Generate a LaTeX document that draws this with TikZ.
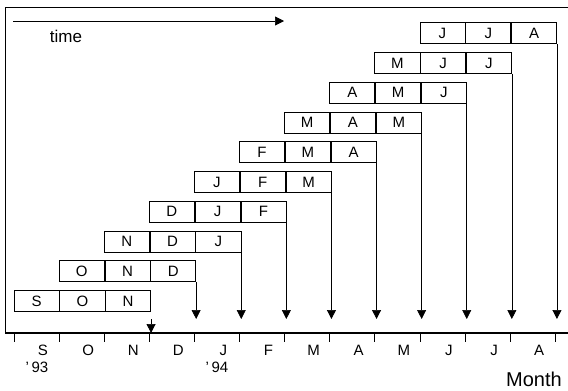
\documentclass[tikz,border=0pt]{standalone}
\usepackage{fontspec}
\setmainfont{Liberation Sans}
\usetikzlibrary{arrows.meta}
\tikzset{cell/.style={draw, line width=0.7pt, minimum width=45.1pt,
    minimum height=21pt, inner sep=0pt, font=\fontsize{15}{15}\selectfont},
  down/.style={-{Triangle[length=9pt,width=9pt]}, line width=0.7pt},
  lbl/.style={inner sep=0pt, font=\fontsize{15}{15}\selectfont}}

\begin{document}
\begin{tikzpicture}[x=1pt, y=-1pt]
  \useasboundingbox (0,0) rectangle (568,391);
  \coordinate (base) at (0,319);
  \coordinate (axis) at (0,333);
  % frame and month axis
  \draw[line width=0.8pt] (5,333) -- (5,7) -- (568,7);
  \draw[line width=1.7pt] (5,333) -- (568,333);
  \foreach \k in {0,...,12}
    \draw[line width=0.7pt] (14+45.1*\k,333) -- (14+45.1*\k,342);
  \foreach \m [count=\k from 0] in {S,O,N,D,J,F,M,A,M,J,J,A}
    \node[lbl] (ax\k) at (43+45.1*\k,350) {\m};
  \node[lbl] (y93) at (37,367) {'\,93};
  \node[lbl] (y94) at (217,367) {'\,94};
  \node[inner sep=0pt, font=\fontsize{20}{20}\selectfont] (month) at (534,379) {Month};
  % time arrow
  \coordinate (ts) at (13,21);
  \coordinate (te) at (284,21);
  \draw[down] (ts) -- (te);
  \node[inner sep=0pt, font=\fontsize{17}{17}\selectfont] (time) at (66,36) {time};
  % three month windows
  \foreach \a/\b/\c [count=\i from 0] in {S/O/N, O/N/D, N/D/J, D/J/F, J/F/M,
      F/M/A, M/A/M, A/M/J, M/J/J, J/J/A} {
    \node[cell] (r\i-0) at (36.55+45.1*\i, 301-29.75*\i) {\a};
    \node[cell, anchor=west] (r\i-1) at (r\i-0.east) {\b};
    \node[cell, anchor=west] (r\i-2) at (r\i-1.east) {\c};
  }
  \foreach \i in {1,...,9} {
    \coordinate (t\i) at (r\i-2.south east |- base);
    \draw[down] (r\i-2.south east) -- (t\i);
  }
  \coordinate (s0) at (r0-2.south east |- base);
  \coordinate (t0) at (r0-2.south east |- axis);
  \draw[down] (s0) -- (t0);
\end{tikzpicture}
\end{document}
